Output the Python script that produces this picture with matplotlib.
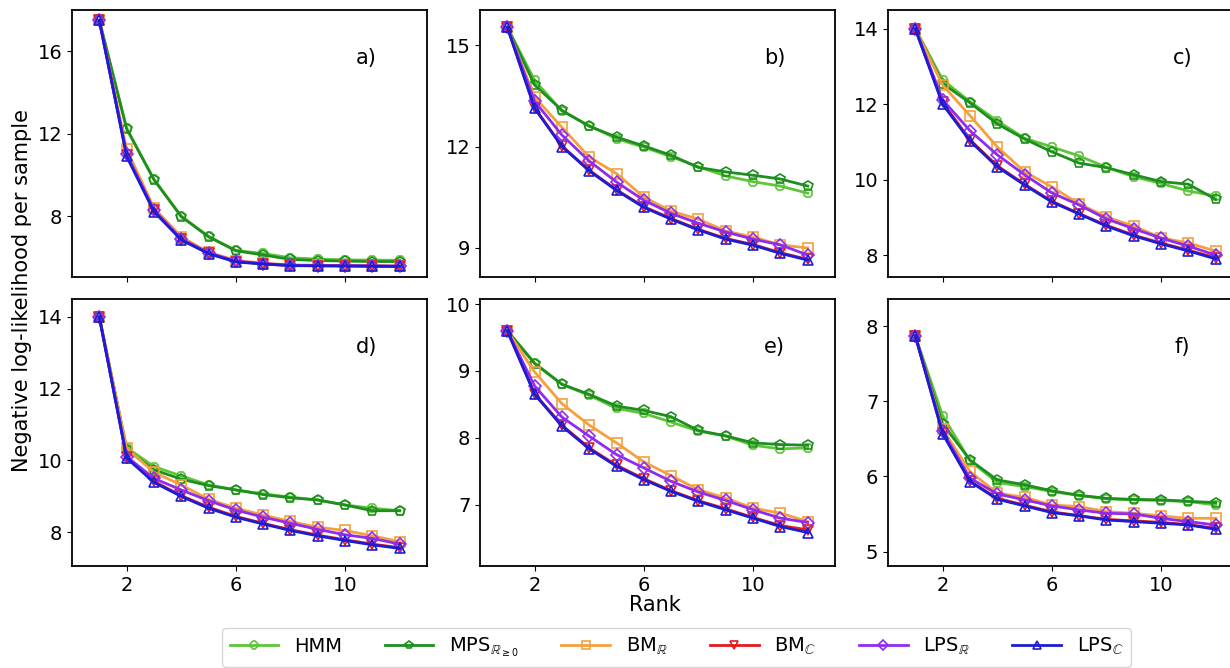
import matplotlib
matplotlib.use("Agg")
import matplotlib.pyplot as plt

ranks = [1, 2, 3, 4, 5, 6, 7, 8, 9, 10, 11, 12]
series_names = ["HMM", r"MPS$_{\mathbb{R}_{\geq 0}}$", r"BM$_{\mathbb{R}}$",
                r"BM$_{\mathbb{C}}$", r"LPS$_{\mathbb{R}}$", r"LPS$_{\mathbb{C}}$"]
panel_labels = ["a)", "b)", "c)", "d)", "e)", "f)"]

# panel a
a_hmm = [17.5, 12.26, 9.79, 8.0, 7.02, 6.34, 6.19, 5.98, 5.92, 5.88, 5.87, 5.86]
a_mps = [17.5, 12.24, 9.77, 7.98, 7.0, 6.32, 6.12, 5.9, 5.85, 5.82, 5.8, 5.8]
a_bmr = [17.5, 11.25, 8.4, 7.0, 6.25, 5.85, 5.72, 5.64, 5.62, 5.6, 5.59, 5.58]
a_bmc = [17.5, 10.98, 8.28, 6.88, 6.2, 5.8, 5.68, 5.61, 5.6, 5.59, 5.58, 5.57]
a_lpsr = [17.5, 11.0, 8.3, 6.9, 6.22, 5.82, 5.7, 5.62, 5.6, 5.6, 5.59, 5.58]
a_lpsc = [17.5, 10.9, 8.22, 6.85, 6.18, 5.78, 5.68, 5.6, 5.59, 5.58, 5.57, 5.56]
# panel b
b_hmm = [15.53, 13.96, 13.05, 12.62, 12.23, 11.98, 11.7, 11.4, 11.13, 10.96, 10.83, 10.62]
b_mps = [15.53, 13.82, 13.07, 12.6, 12.28, 12.02, 11.74, 11.38, 11.25, 11.15, 11.04, 10.83]
b_bmr = [15.53, 13.46, 12.57, 11.69, 11.2, 10.5, 10.09, 9.85, 9.5, 9.32, 9.09, 9.0]
b_bmc = [15.53, 13.15, 12.02, 11.3, 10.72, 10.22, 9.87, 9.55, 9.28, 9.1, 8.86, 8.66]
b_lpsr = [15.53, 13.34, 12.34, 11.57, 10.95, 10.41, 10.02, 9.73, 9.47, 9.26, 9.09, 8.79]
b_lpsc = [15.53, 13.13, 12.0, 11.28, 10.7, 10.2, 9.85, 9.53, 9.26, 9.08, 8.84, 8.64]
# panel c
c_hmm = [14.0, 12.65, 12.07, 11.56, 11.1, 10.87, 10.63, 10.33, 10.08, 9.9, 9.7, 9.57]
c_mps = [14.0, 12.55, 12.04, 11.48, 11.08, 10.74, 10.44, 10.32, 10.13, 9.95, 9.88, 9.48]
c_bmr = [14.0, 12.51, 11.7, 10.87, 10.21, 9.81, 9.36, 9.01, 8.77, 8.46, 8.32, 8.11]
c_bmc = [14.0, 12.05, 11.06, 10.37, 9.88, 9.43, 9.1, 8.79, 8.53, 8.32, 8.13, 7.93]
c_lpsr = [14.0, 12.12, 11.3, 10.66, 10.13, 9.65, 9.33, 8.96, 8.7, 8.45, 8.24, 8.0]
c_lpsc = [14.0, 12.0, 11.03, 10.34, 9.86, 9.41, 9.09, 8.77, 8.51, 8.3, 8.11, 7.9]
# panel d
d_hmm = [14.0, 10.36, 9.83, 9.57, 9.32, 9.18, 9.07, 8.98, 8.9, 8.76, 8.67, 8.6]
d_mps = [14.0, 10.3, 9.74, 9.48, 9.3, 9.18, 9.05, 8.96, 8.9, 8.76, 8.6, 8.6]
d_bmr = [14.0, 10.34, 9.67, 9.32, 8.92, 8.67, 8.48, 8.3, 8.14, 8.05, 7.9, 7.74]
d_bmc = [14.0, 10.1, 9.42, 9.02, 8.7, 8.44, 8.25, 8.07, 7.92, 7.79, 7.67, 7.57]
d_lpsr = [14.0, 10.11, 9.5, 9.18, 8.88, 8.62, 8.42, 8.25, 8.08, 7.93, 7.83, 7.67]
d_lpsc = [14.0, 10.07, 9.39, 9.0, 8.67, 8.42, 8.23, 8.05, 7.9, 7.77, 7.65, 7.55]
# panel e
e_hmm = [9.6, 9.12, 8.8, 8.635, 8.44, 8.365, 8.235, 8.1, 8.025, 7.89, 7.835, 7.85]
e_mps = [9.6, 9.11, 8.8, 8.65, 8.475, 8.41, 8.315, 8.11, 8.03, 7.925, 7.9, 7.89]
e_bmr = [9.6, 8.985, 8.51, 8.19, 7.925, 7.64, 7.435, 7.225, 7.1, 6.95, 6.875, 6.75]
e_bmc = [9.6, 8.66, 8.19, 7.85, 7.59, 7.39, 7.21, 7.06, 6.94, 6.81, 6.69, 6.625]
e_lpsr = [9.6, 8.775, 8.31, 8.025, 7.75, 7.55, 7.35, 7.19, 7.065, 6.925, 6.8, 6.735]
e_lpsc = [9.6, 8.65, 8.175, 7.835, 7.575, 7.375, 7.2, 7.05, 6.925, 6.8, 6.675, 6.585]
# panel f
f_hmm = [7.87, 6.81, 6.21, 5.92, 5.867, 5.8, 5.747, 5.702, 5.69, 5.68, 5.667, 5.622]
f_mps = [7.87, 6.70, 6.22, 5.955, 5.89, 5.81, 5.75, 5.71, 5.695, 5.69, 5.67, 5.653]
f_bmr = [7.87, 6.631, 6.067, 5.778, 5.724, 5.622, 5.6, 5.533, 5.511, 5.476, 5.444, 5.444]
f_bmc = [7.87, 6.58, 5.94, 5.71, 5.62, 5.53, 5.48, 5.43, 5.41, 5.39, 5.36, 5.31]
f_lpsr = [7.87, 6.6, 5.978, 5.769, 5.689, 5.609, 5.556, 5.511, 5.502, 5.444, 5.4, 5.356]
f_lpsc = [7.87, 6.569, 5.933, 5.698, 5.609, 5.52, 5.476, 5.422, 5.4, 5.378, 5.356, 5.298]

x_ticks = [2, 6, 10]
y_ticks = [[8, 12, 16], [9, 12, 15], [8, 10, 12, 14],
           [8, 10, 12, 14], [7, 8, 9, 10], [5, 6, 7, 8]]

panels = [
    [a_hmm, a_mps, a_bmr, a_bmc, a_lpsr, a_lpsc],
    [b_hmm, b_mps, b_bmr, b_bmc, b_lpsr, b_lpsc],
    [c_hmm, c_mps, c_bmr, c_bmc, c_lpsr, c_lpsc],
    [d_hmm, d_mps, d_bmr, d_bmc, d_lpsr, d_lpsc],
    [e_hmm, e_mps, e_bmr, e_bmc, e_lpsr, e_lpsc],
    [f_hmm, f_mps, f_bmr, f_bmc, f_lpsr, f_lpsc],
]
ylims = [(5.05, 18.0), (8.14, 16.04), (7.42, 14.5),
         (7.06, 14.5), (6.085, 10.075), (4.81, 8.36)]

colors = ["#5ec43a", "#1e8f1e", "#f5a03c", "#e41a1c", "#8f2cf0", "#1c1cd4"]
markers = ["8", "p", "s", "v", "D", "^"]
msizes = [7, 7, 7, 7, 6.5, 7]

W, H = 1230, 668
fig = plt.figure(figsize=(W / 100, H / 100), dpi=100)

lefts = [72, 480, 888]
tops = [10, 299]
aw, ah = 355, 267

axes = []
for r in range(2):
    for c in range(3):
        ax = fig.add_axes([lefts[c] / W, 1 - (tops[r] + ah) / H, aw / W, ah / H])
        axes.append(ax)

handles = []
for i, ax in enumerate(axes):
    for k, ys in enumerate(panels[i]):
        ln, = ax.plot(ranks, ys, color=colors[k], lw=2, marker=markers[k],
                      ms=msizes[k], mfc="none", mec=colors[k], mew=1.2,
                      label=series_names[k])
        if i == 0:
            handles.append(ln)
    ax.set_xlim(0, 13)
    ax.set_ylim(*ylims[i])
    ax.set_xticks(x_ticks)
    ax.set_yticks(y_ticks[i])
    ax.tick_params(labelsize=14)
    if i < 3:
        ax.set_xticklabels([])
    for s in ax.spines.values():
        s.set_linewidth(1.3)
    ax.text(0.83, 0.82, panel_labels[i], transform=ax.transAxes,
            fontsize=15, ha="center", va="center")

fig.text(22 / W, 1 - 290 / H, "Negative log-likelihood per sample",
         rotation=90, ha="center", va="center", fontsize=15)
fig.text(655 / W, 1 - 605 / H, "Rank", ha="center", va="center", fontsize=15)

fig.legend(handles=handles, loc="upper left", bbox_to_anchor=(222 / W, 1 - 628 / H),
           ncol=6, fontsize=14, frameon=True, borderaxespad=0, markerscale=0.8,
           handlelength=2.5, columnspacing=2.2)

fig.savefig("out.png", dpi=100)
